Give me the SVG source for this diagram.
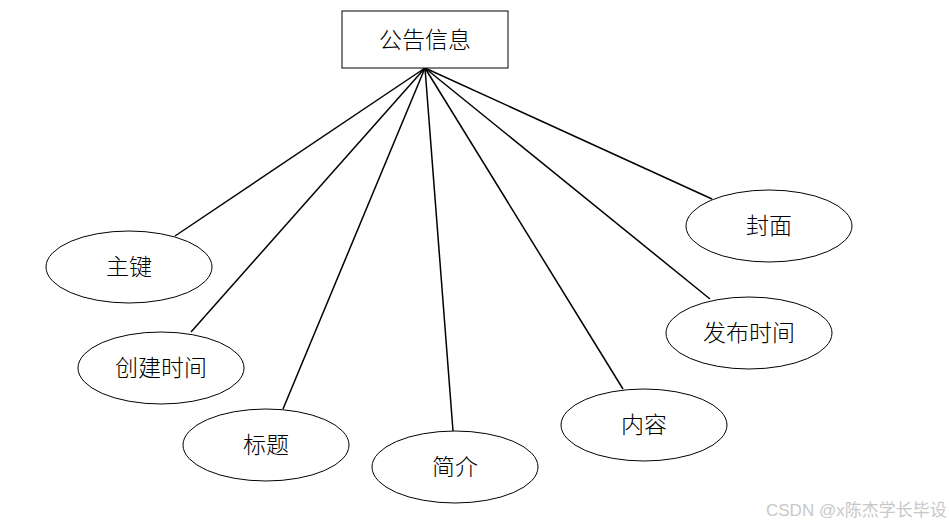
<svg xmlns="http://www.w3.org/2000/svg" width="949" height="525" viewBox="0 0 949 525">
<style>
.n{fill:#fff;stroke:#000;stroke-width:1}
.t{font-family:"Liberation Serif","Noto Sans CJK SC",serif;font-size:23px;font-weight:300;fill:#000;text-anchor:middle;dominant-baseline:central}
.c line{stroke:#000;stroke-width:1.5}
.wm{font-family:"Liberation Sans","Noto Sans CJK SC",sans-serif;font-size:17px;fill:#c8c8c8}
</style>
<rect width="949" height="525" fill="#fff"/>
<g class="c">
<line x1="425" y1="68" x2="175" y2="236"/>
<line x1="425" y1="68" x2="191" y2="332"/>
<line x1="425" y1="68" x2="283" y2="409"/>
<line x1="425" y1="68" x2="453" y2="431"/>
<line x1="425" y1="68" x2="623" y2="389"/>
<line x1="425" y1="68" x2="710" y2="299"/>
<line x1="425" y1="68" x2="712" y2="199"/>
</g>
<g id="entity"><rect class="n" x="342" y="11" width="166" height="57"/><text class="t" x="425" y="40">公告信息</text></g>
<g id="a1"><ellipse class="n" cx="129" cy="267" rx="83" ry="36"/><text class="t" x="129" y="267">主键</text></g>
<g id="a2"><ellipse class="n" cx="161" cy="368" rx="83" ry="36"/><text class="t" x="161" y="368">创建时间</text></g>
<g id="a3"><ellipse class="n" cx="266" cy="445" rx="83" ry="36"/><text class="t" x="266" y="445">标题</text></g>
<g id="a4"><ellipse class="n" cx="455" cy="467" rx="83" ry="36"/><text class="t" x="455" y="467">简介</text></g>
<g id="a5"><ellipse class="n" cx="644" cy="425" rx="83" ry="36"/><text class="t" x="644" y="425">内容</text></g>
<g id="a6"><ellipse class="n" cx="749" cy="333" rx="83" ry="36"/><text class="t" x="749" y="333">发布时间</text></g>
<g id="a7"><ellipse class="n" cx="769" cy="226" rx="83" ry="36"/><text class="t" x="769" y="226">封面</text></g>
<text class="wm" x="766" y="516">CSDN @x陈杰学长毕设</text>
</svg>
